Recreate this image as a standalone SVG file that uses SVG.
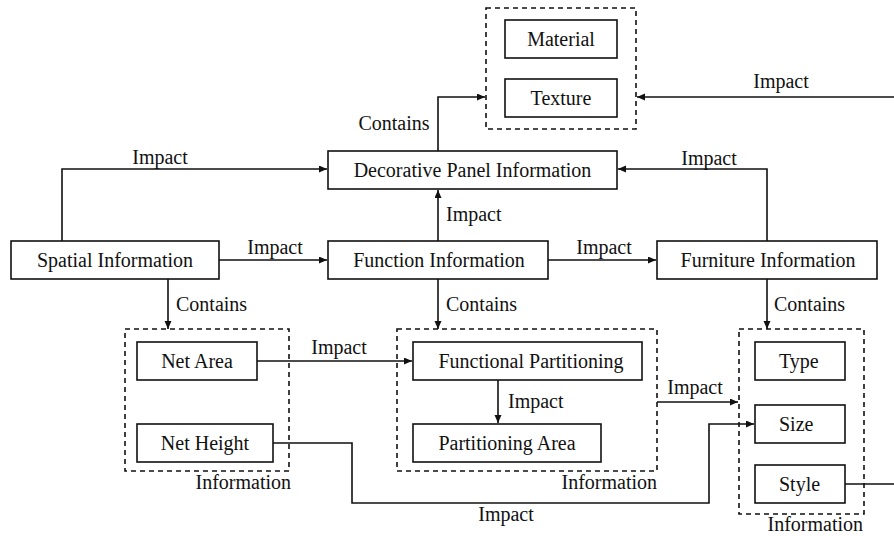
<svg xmlns="http://www.w3.org/2000/svg" width="894" height="536" viewBox="0 0 894 536">
<style>
text{font-family:"Liberation Serif","Times New Roman",serif;font-size:20px;fill:#111}
.box{fill:#fff;stroke:#111;stroke-width:1.6}
.grp{fill:none;stroke:#111;stroke-width:1.6;stroke-dasharray:5 4}
.c{text-anchor:middle}
.e{text-anchor:end}
.ln{fill:none;stroke:#111;stroke-width:1.6}
</style>
<defs>
<marker id="ah" markerUnits="userSpaceOnUse" markerWidth="9" markerHeight="8" refX="8" refY="3.5" orient="auto">
<path d="M0,0 L8,3.5 L0,7 z" fill="#111"/>
</marker>
</defs>
<rect width="894" height="536" fill="#fff"/>
<g id="connectors">
<path class="ln" d="M438,151 V97 H485" marker-end="url(#ah)"/>
<path class="ln" d="M894,97 H637" marker-end="url(#ah)"/>
<path class="ln" d="M767,241 V169 H618" marker-end="url(#ah)"/>
<path class="ln" d="M62,241 V169 H327" marker-end="url(#ah)"/>
<path class="ln" d="M219,260 H327" marker-end="url(#ah)"/>
<path class="ln" d="M438,241 V190" marker-end="url(#ah)"/>
<path class="ln" d="M548,260 H656" marker-end="url(#ah)"/>
<path class="ln" d="M168,279 V329" marker-end="url(#ah)"/>
<path class="ln" d="M438,279 V329" marker-end="url(#ah)"/>
<path class="ln" d="M767,279 V329" marker-end="url(#ah)"/>
<path class="ln" d="M257,361 H412" marker-end="url(#ah)"/>
<path class="ln" d="M498,380 V423" marker-end="url(#ah)"/>
<path class="ln" d="M657,402 H738" marker-end="url(#ah)"/>
<path class="ln" d="M273,443 H352 V503 H709 V424 H754" marker-end="url(#ah)"/>
<path class="ln" d="M845,484 H894"/>
<text class="c" x="394" y="130">Contains</text>
<text class="c" x="781" y="88">Impact</text>
<text class="c" x="709" y="165">Impact</text>
<text class="c" x="160" y="164">Impact</text>
<text class="c" x="275" y="254">Impact</text>
<text x="446" y="221">Impact</text>
<text class="c" x="604" y="254">Impact</text>
<text x="176" y="311">Contains</text>
<text x="446" y="311">Contains</text>
<text x="774" y="311">Contains</text>
<text class="c" x="339" y="354">Impact</text>
<text x="508" y="408">Impact</text>
<text class="c" x="695" y="394">Impact</text>
<text class="c" x="506" y="521">Impact</text>
</g>
<g id="decor-group">
<rect class="grp" x="486" y="8" width="150" height="121"/>
</g>
<g id="material"><rect class="box" x="505" y="20" width="112" height="38"/><text class="c" x="561" y="46">Material</text></g>
<g id="texture"><rect class="box" x="505" y="79" width="112" height="38"/><text class="c" x="561" y="105">Texture</text></g>
<g id="decorative"><rect class="box" x="328" y="151" width="289" height="38"/><text class="c" x="472.5" y="177">Decorative Panel Information</text></g>
<g id="spatial"><rect class="box" x="11" y="241" width="208" height="38"/><text class="c" x="115" y="267">Spatial Information</text></g>
<g id="function"><rect class="box" x="328" y="241" width="220" height="38"/><text class="c" x="439" y="267">Function Information</text></g>
<g id="furniture"><rect class="box" x="657" y="241" width="220" height="38"/><text class="c" x="768" y="267">Furniture Information</text></g>
<g id="spatial-group">
<rect class="grp" x="125" y="329" width="164" height="142"/>
<text class="e" x="291" y="489">Information</text>
</g>
<g id="net-area"><rect class="box" x="137" y="342" width="120" height="38"/><text class="c" x="197" y="368">Net Area</text></g>
<g id="net-height"><rect class="box" x="137" y="424" width="136" height="38"/><text class="c" x="205" y="450">Net Height</text></g>
<g id="function-group">
<rect class="grp" x="397" y="329" width="260" height="142"/>
<text class="e" x="657" y="489">Information</text>
</g>
<g id="functional-partitioning"><rect class="box" x="413" y="342" width="229" height="38"/><text class="c" x="531" y="368">Functional Partitioning</text></g>
<g id="partitioning-area"><rect class="box" x="413" y="424" width="188" height="38"/><text class="c" x="507" y="450">Partitioning Area</text></g>
<g id="furniture-group">
<rect class="grp" x="739" y="329" width="125" height="185"/>
<text class="e" x="863" y="531">Information</text>
</g>
<g id="type"><rect class="box" x="755" y="342" width="90" height="38"/><text x="779" y="368">Type</text></g>
<g id="size"><rect class="box" x="755" y="405" width="90" height="38"/><text x="779" y="431">Size</text></g>
<g id="style"><rect class="box" x="755" y="465" width="90" height="38"/><text x="779" y="491">Style</text></g>
</svg>
